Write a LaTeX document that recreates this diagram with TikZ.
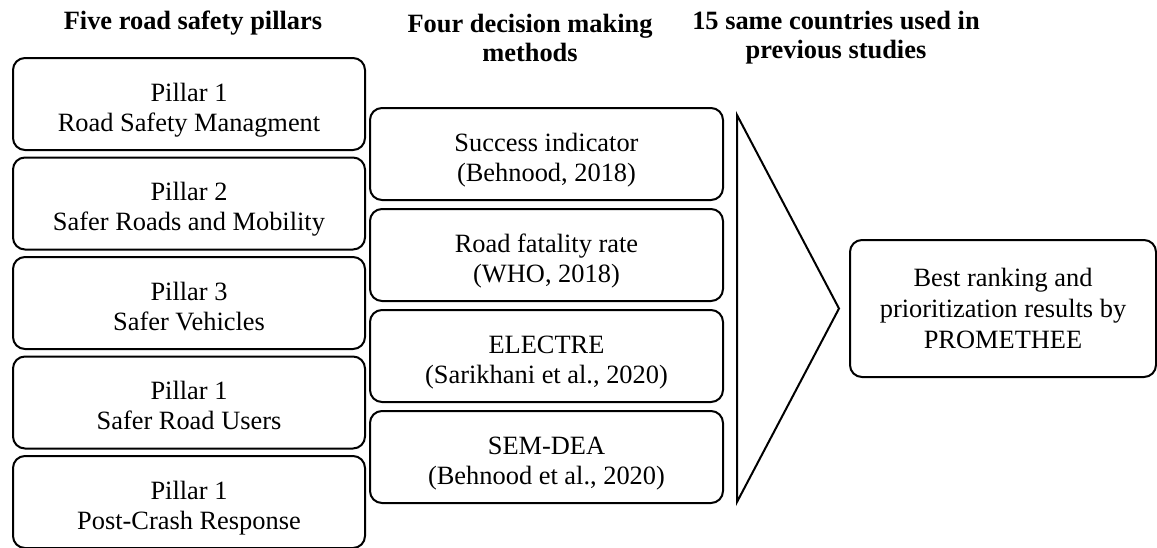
\documentclass[tikz,border=0pt]{standalone}
\usepackage{fontspec}
\setmainfont{Liberation Serif}

\tikzset{
	box/.style = {draw, line width = 1pt, rounded corners = 6pt, align = center, inner sep = 0pt, font = \fontsize{13.2}{15.5}\selectfont},
	pillar/.style = {box, minimum width = 176pt, minimum height = 46pt, font = \fontsize{13.2}{15}\selectfont, text height = 36.5pt, text depth = 9.5pt},
	method/.style = {pillar, minimum width = 176.5pt},
	heading/.style = {align = center, font = \fontsize{13.2}{14.5}\selectfont\bfseries}
}

\begin{document}
\begin{tikzpicture}[x = 0.5pt, y = -0.5pt]

\useasboundingbox (0, 0) rectangle (1157, 547);

% The headings

\node [heading] (head-pillars) at (193, 23) {Five road safety pillars};
\node [heading] (head-methods) at (530, 37.5) {Four decision making\\methods};
\node [heading] (head-countries) at (836, 37.5) {15 same countries used in\\previous studies};

% The pillars

\node [pillar] (pillar-1) at (189, 104) {Pillar 1\\Road Safety Managment};
\node [pillar] (pillar-2) at (189, 203.5) {Pillar 2\\Safer Roads and Mobility};
\node [pillar] (pillar-3) at (189, 303) {Pillar 3\\Safer Vehicles};
\node [pillar] (pillar-4) at (189, 402.5) {Pillar 1\\Safer Road Users};
\node [pillar] (pillar-5) at (189, 502) {Pillar 1\\Post-Crash Response};

% The methods

\node [method] (method-1) at (546.5, 154) {Success indicator\\(Behnood, 2018)};
\node [method] (method-2) at (546.5, 255) {Road fatality rate\\(WHO, 2018)};
\node [method] (method-3) at (546.5, 356) {ELECTRE\\(Sarikhani et al., 2020)};
\node [method] (method-4) at (546.5, 457) {SEM-DEA\\(Behnood et al., 2020)};

% The big arrow head

\draw [line width = 1pt, line join = miter] (737, 115) -- (839, 308.5) -- (737, 502) -- cycle;

% The result

\node [box, minimum width = 153pt, minimum height = 68.5pt] (result) at (1003, 308.5) {Best ranking and\\prioritization results by\\PROMETHEE};

\end{tikzpicture}
\end{document}
